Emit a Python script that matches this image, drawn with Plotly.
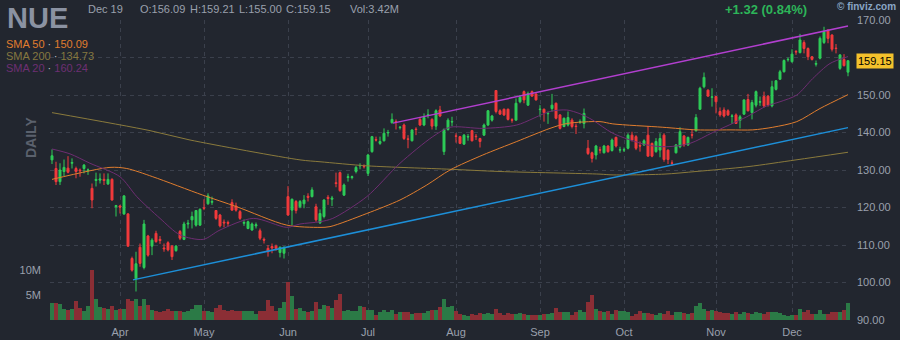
import plotly.graph_objects as go

# ---------------- data ----------------
opens = [132.7, 130.4, 126.9, 129.6, 130.5, 131.8, 130.4, 130.0, 130.4, 129.8,
         125.1, 127.2, 127.3, 127.5, 126.3, 127.5, 120.2, 120.4, 118.3, 118.3,
         106.4, 101.0, 109.4, 104.0, 112.4, 109.7, 113.1, 111.5, 109.2, 110.6,
         109.7, 108.5, 113.6, 111.5, 115.6, 116.7, 115.3, 115.3, 119.9, 121.0,
         121.4, 119.2, 118.0, 116.1, 116.0, 121.3, 120.4, 118.9, 115.8, 114.4,
         114.0, 115.1, 113.8, 111.5, 109.1, 109.6, 109.7, 108.0, 107.8, 122.9,
         119.3, 121.6, 120.2, 121.0, 123.0, 122.9, 120.2, 115.9, 117.6, 122.7,
         122.2, 126.6, 129.3, 123.3, 128.0, 128.0, 129.6, 131.1, 131.0, 129.1,
         134.9, 138.1, 137.1, 137.8, 139.9, 142.6, 142.9, 141.3, 142.0, 138.3,
         137.8, 140.9, 143.5, 142.0, 144.6, 143.5, 141.7, 146.0, 134.9, 140.8,
         142.8, 139.1, 138.9, 136.9, 138.8, 140.5, 139.0, 138.4, 139.3, 142.0,
         143.3, 151.2, 145.8, 146.2, 146.2, 143.4, 143.3, 148.2, 150.9, 147.3,
         150.9, 150.3, 146.1, 146.2, 145.0, 146.4, 147.8, 144.7, 141.6, 142.0,
         143.3, 141.7, 142.8, 142.4, 135.8, 134.6, 134.0, 135.4, 134.6, 136.4,
         135.2, 138.7, 135.3, 135.3, 135.8, 139.3, 138.9, 136.5, 136.7, 139.3,
         137.1, 134.9, 135.3, 139.3, 135.3, 131.9, 134.6, 136.2, 139.1, 136.7,
         139.4, 140.5, 146.2, 152.2, 151.3, 149.4, 149.6, 145.6, 146.0, 145.8,
         144.3, 144.7, 143.2, 144.9, 148.8, 145.3, 147.3, 148.1, 149.6, 149.7,
         147.1, 151.5, 154.2, 156.2, 159.4, 158.9, 161.6, 161.3, 164.0, 162.4,
         160.2, 158.2, 159.8, 164.0, 167.3, 166.0, 162.5, 157.1, 159.5, 156.09]
highs = [135.5, 132.2, 131.8, 132.8, 133.7, 133.1, 130.9, 130.4, 131.6, 130.4,
         126.4, 129.3, 129.1, 129.1, 129.1, 127.8, 120.7, 120.7, 123.3, 118.5,
         106.9, 108.2, 110.4, 116.7, 112.7, 111.8, 113.8, 112.4, 110.4, 111.0,
         110.0, 110.0, 114.0, 116.2, 116.7, 118.9, 119.3, 119.8, 122.2, 123.8,
         122.9, 119.3, 118.3, 116.8, 116.5, 122.2, 121.3, 119.3, 116.8, 116.5,
         116.0, 116.0, 114.4, 112.0, 110.0, 110.4, 110.1, 109.6, 109.6, 125.7,
         122.4, 122.0, 122.0, 123.3, 123.8, 125.4, 121.0, 119.5, 122.2, 123.3,
         123.1, 129.3, 129.6, 126.4, 129.0, 128.5, 131.1, 131.8, 131.5, 134.3,
         139.1, 138.9, 138.9, 141.1, 140.7, 145.1, 143.5, 141.7, 142.4, 139.3,
         140.8, 141.4, 144.0, 145.1, 146.2, 143.8, 146.2, 147.1, 141.1, 143.8,
         144.2, 139.8, 139.1, 139.6, 139.6, 140.7, 139.6, 138.6, 142.4, 146.0,
         144.7, 151.3, 146.2, 146.4, 146.4, 143.8, 149.1, 150.0, 151.2, 150.9,
         151.2, 150.4, 147.3, 146.4, 145.6, 150.3, 148.0, 144.9, 144.0, 145.6,
         143.8, 142.4, 143.5, 146.4, 138.0, 134.9, 136.7, 136.2, 136.7, 136.6,
         138.4, 138.9, 136.2, 136.0, 139.8, 140.2, 139.3, 137.6, 138.2, 141.7,
         137.3, 138.5, 139.8, 139.8, 135.5, 132.6, 136.9, 141.4, 139.3, 138.9,
         140.7, 144.9, 152.2, 156.0, 151.5, 151.8, 149.7, 146.7, 146.7, 146.2,
         144.9, 145.1, 144.7, 148.8, 150.3, 148.7, 151.2, 149.6, 150.9, 150.0,
         153.8, 154.0, 156.7, 159.5, 160.0, 162.2, 162.0, 166.3, 164.6, 162.7,
         160.4, 159.2, 165.6, 168.2, 167.5, 166.2, 163.6, 160.9, 160.9, 159.21]
lows = [131.6, 126.0, 126.0, 128.4, 129.1, 130.4, 127.8, 128.2, 129.1, 128.7,
        119.8, 125.6, 126.4, 126.0, 126.0, 121.8, 117.6, 118.4, 118.0, 109.5,
        102.9, 97.6, 104.2, 103.5, 106.9, 107.3, 110.6, 110.3, 108.2, 108.3,
        106.0, 108.2, 111.3, 111.3, 114.4, 114.4, 114.9, 115.1, 119.3, 120.7,
        120.7, 116.7, 114.7, 114.7, 115.0, 119.2, 118.9, 116.7, 115.1, 114.2,
        113.8, 114.4, 111.3, 110.4, 106.9, 107.8, 108.5, 106.7, 106.4, 117.8,
        115.3, 118.4, 119.8, 119.8, 121.6, 122.7, 116.2, 115.6, 117.1, 120.7,
        120.4, 125.4, 124.2, 123.1, 126.9, 127.5, 129.1, 130.2, 130.4, 128.4,
        134.6, 137.6, 136.7, 137.6, 138.9, 142.4, 140.8, 140.8, 138.0, 135.8,
        137.6, 139.3, 141.7, 141.7, 143.8, 140.8, 140.7, 144.1, 134.0, 140.5,
        141.7, 137.3, 136.9, 136.7, 137.8, 137.6, 138.0, 136.0, 139.1, 141.7,
        142.9, 145.1, 144.7, 144.4, 143.2, 142.6, 143.2, 147.8, 147.8, 147.1,
        149.6, 148.5, 144.2, 142.9, 142.3, 145.6, 143.5, 140.8, 141.4, 141.6,
        141.1, 139.6, 142.3, 141.1, 134.0, 132.0, 132.8, 134.4, 134.4, 134.6,
        134.9, 136.0, 134.6, 134.8, 135.5, 137.6, 135.3, 134.9, 136.4, 133.6,
        133.4, 134.6, 133.4, 132.2, 131.6, 131.2, 134.4, 135.8, 136.2, 136.4,
        138.4, 140.2, 146.0, 151.8, 149.6, 146.9, 145.1, 144.2, 144.0, 144.4,
        142.3, 142.3, 141.1, 144.7, 145.6, 143.5, 146.7, 147.1, 146.7, 146.9,
        146.7, 151.2, 154.0, 156.0, 158.9, 158.6, 160.7, 161.1, 161.1, 159.3,
        159.2, 157.6, 159.5, 163.6, 163.8, 161.6, 161.1, 156.7, 157.6, 155.00]
closes = [133.8, 126.9, 130.0, 130.7, 129.4, 132.0, 129.6, 129.8, 131.3, 130.0,
          122.0, 127.5, 127.6, 127.2, 127.5, 122.0, 120.5, 120.1, 123.1, 109.7,
          103.3, 105.0, 105.1, 115.6, 107.3, 111.3, 110.9, 111.2, 109.0, 108.7,
          106.9, 109.7, 111.8, 115.6, 115.8, 117.6, 119.2, 119.5, 119.8, 123.1,
          121.6, 117.1, 115.1, 115.9, 115.8, 119.3, 119.3, 117.1, 116.0, 116.2,
          115.6, 115.4, 111.8, 111.3, 108.2, 109.2, 109.1, 109.4, 109.4, 118.0,
          122.2, 119.2, 121.6, 122.0, 122.7, 124.7, 116.7, 118.4, 122.0, 122.4,
          122.5, 126.4, 124.5, 126.0, 128.2, 128.2, 130.7, 131.2, 130.9, 134.0,
          138.9, 138.0, 137.6, 139.8, 140.0, 143.5, 142.8, 141.4, 138.4, 138.2,
          140.7, 140.8, 142.0, 144.0, 144.7, 141.7, 145.8, 144.4, 140.8, 143.3,
          142.9, 139.0, 137.1, 139.3, 138.9, 137.8, 138.9, 137.6, 142.0, 145.8,
          144.4, 145.6, 144.9, 144.7, 143.5, 143.3, 147.8, 149.4, 148.7, 150.4,
          149.7, 148.7, 146.2, 145.3, 145.1, 147.3, 143.8, 141.1, 143.8, 144.0,
          141.6, 141.6, 142.9, 145.1, 134.4, 133.1, 136.4, 135.3, 136.4, 134.9,
          138.0, 136.4, 135.4, 135.4, 139.3, 138.0, 135.8, 136.4, 137.8, 133.7,
          133.7, 137.6, 138.4, 132.8, 132.8, 131.8, 136.7, 140.2, 136.7, 138.7,
          139.3, 144.0, 151.8, 154.7, 149.7, 149.5, 148.2, 144.7, 144.4, 144.7,
          144.4, 142.4, 144.2, 148.7, 145.8, 148.0, 150.9, 148.2, 147.1, 147.3,
          152.2, 153.8, 156.2, 159.2, 159.5, 160.9, 161.5, 164.7, 162.4, 160.2,
          159.5, 158.4, 165.1, 166.9, 165.1, 162.2, 162.4, 160.7, 157.83, 159.15]
volume_m = [3.4, 3.4, 3.2, 2.2, 2.07, 2.2, 3.8, 2.33, 1.87, 2.73,
            10.0, 4.2, 2.53, 2.33, 2.2, 2.87, 2.07, 2.2, 2.2, 4.2,
            3.87, 4.2, 2.87, 4.2, 3.0, 2.07, 1.87, 1.53, 1.87, 2.2,
            1.87, 1.87, 1.87, 1.67, 1.87, 2.2, 3.0, 3.0, 1.87, 1.87,
            1.53, 2.33, 3.0, 2.07, 1.87, 2.07, 1.87, 1.87, 1.87, 1.87,
            1.87, 1.2, 1.87, 1.87, 4.07, 2.73, 1.87, 2.33, 3.67, 7.53,
            4.87, 2.2, 2.33, 1.87, 1.67, 1.87, 3.67, 2.2, 3.0, 2.73,
            2.33, 4.07, 5.2, 1.87, 2.07, 1.87, 1.87, 2.87, 2.53, 2.0,
            2.0, 1.0, 1.53, 2.0, 1.53, 2.0, 1.2, 1.53, 1.53, 1.67,
            1.2, 1.4, 1.4, 1.4, 1.87, 2.0, 2.0, 2.53, 4.2, 2.53,
            2.73, 1.87, 1.2, 1.0, 0.87, 1.2, 1.0, 1.4, 1.2, 1.4,
            1.2, 2.2, 1.4, 1.0, 1.4, 1.2, 1.2, 1.4, 1.2, 1.0,
            1.0, 1.0, 1.0, 1.2, 1.2, 1.4, 2.33, 1.53, 1.67, 1.53,
            1.0, 1.67, 2.0, 1.53, 3.67, 5.0, 2.2, 1.87, 1.67, 1.87,
            1.2, 2.0, 1.8, 1.8, 1.53, 0.87, 1.2, 1.8, 1.4, 1.4,
            1.2, 1.0, 1.4, 1.2, 1.8, 1.0, 1.53, 1.67, 1.4, 1.2,
            1.4, 2.87, 3.4, 2.2, 1.87, 2.0, 1.87, 1.67, 1.4, 1.4,
            1.2, 1.53, 1.2, 1.53, 1.4, 1.2, 1.53, 1.4, 1.2, 1.53,
            1.67, 1.53, 1.4, 1.0, 0.73, 1.0, 1.0, 2.2, 1.53, 2.0,
            1.2, 1.2, 2.0, 1.2, 1.2, 1.53, 1.67, 1.53, 2.0, 3.42]

month_labels = ["Apr", "May", "Jun", "Jul", "Aug", "Sep", "Oct", "Nov", "Dec"]
month_bar_index = [17, 38, 59, 79, 101, 122, 143, 166, 185]
price_ticks = [90, 100, 110, 120, 130, 140, 150, 160, 170]

sma20_idx = [0, 4.5, 9.5, 17, 21.2, 27, 32, 37.8, 42, 50.3, 58.7, 62, 67, 70.2, 78.7, 87,
             95.2, 99.5, 107.7, 116.2, 124.5, 128.7, 132, 135.2, 140.2, 148.7, 153.7,
             159.5, 165.2, 173.7, 178.7, 182, 186.2, 190.2, 194.5, 199]
sma20_val = [135.6, 134.3, 131.8, 128.2, 122.9, 117.1, 112.7, 111.5, 114.0, 117.1, 114.7,
             115.6, 116.2, 117.1, 122.9, 131.8, 138.9, 141.4, 141.1, 142.0, 145.6, 146.0,
             145.0, 143.3, 139.8, 136.7, 136.2, 137.1, 140.0, 144.2, 147.1, 148.2, 150.0,
             154.4, 158.4, 160.24]
sma50_idx = [0, 14.5, 18.7, 25.2, 37.7, 46.2, 58.7, 67, 69.5, 78.7, 87, 93.7, 99.5, 107.7,
             116.2, 124.5, 128.7, 137, 140.2, 152.7, 161.2, 169.5, 175.2, 180.2, 186.2, 192, 199]
sma50_val = [127.5, 130.7, 130.4, 128.2, 123.3, 120.2, 115.3, 114.7, 114.9, 118.4, 122.0,
             126.0, 130.0, 134.0, 137.6, 141.1, 142.4, 142.9, 142.3, 141.4, 140.7, 140.7,
             140.7, 141.4, 142.9, 146.4, 150.09]
sma200_idx = [0, 24.5, 34.5, 62, 67, 79, 99.5, 112, 137, 140, 153, 161, 174, 186, 199]
sma200_val = [145.3, 140.5, 138.0, 132.7, 132.2, 131.1, 130.2, 129.6, 128.9, 128.7, 128.9,
              129.6, 130.9, 132.7, 134.73]

upper_trend_idx = [85.25, 199]
upper_trend_val = [142.5, 168.4]
lower_trend_idx = [20.25, 199]
lower_trend_val = [100.7, 141.3]

ticker = "NUE"
last_date = "Dec 19"
change_text = "+1.32 (0.84%)"

# ---------------- styling ----------------
BG = "#22262f"
GRID = "#3b404c"
TXT = "#9aa0ad"
GREEN = "#2ecc58"
RED = "#f23a3c"
VGREEN = "#2b7a46"
VRED = "#8b2e35"
FONT = "Liberation Sans, Arial, sans-serif"

x = list(range(len(closes)))
vol_colors = [VGREEN if c >= o else VRED for o, c in zip(opens, closes)]
# the tick label hidden behind the last-price box is left blank (as in the reference)
price_tick_text = ["" if abs(t - closes[-1]) < 3 else "%.2f" % t for t in price_ticks]

fig = go.Figure()

fig.add_trace(go.Bar(x=x, y=volume_m, marker=dict(color=vol_colors, line=dict(width=0)),
                     width=0.85, yaxis="y", showlegend=False, hoverinfo="skip"))

for idx, val, col in [(sma200_idx, sma200_val, "#8a7a3c"),
                      (sma50_idx, sma50_val, "#e07d2e"),
                      (sma20_idx, sma20_val, "#6e2d72")]:
    fig.add_trace(go.Scatter(x=idx, y=val, mode="lines", yaxis="y2",
                             line=dict(color=col, width=1, shape="spline", smoothing=0.8),
                             showlegend=False, hoverinfo="skip"))

fig.add_trace(go.Candlestick(x=x, open=opens, high=highs, low=lows, close=closes, yaxis="y2",
                             increasing=dict(line=dict(color=GREEN, width=1), fillcolor=GREEN),
                             decreasing=dict(line=dict(color=RED, width=1), fillcolor=RED),
                             whiskerwidth=0, showlegend=False, hoverinfo="skip"))

fig.add_trace(go.Scatter(x=upper_trend_idx, y=upper_trend_val, mode="lines", yaxis="y2",
                         line=dict(color="#b23fcf", width=1.5), showlegend=False, hoverinfo="skip"))
fig.add_trace(go.Scatter(x=lower_trend_idx, y=lower_trend_val, mode="lines", yaxis="y2",
                         line=dict(color="#1d8fd8", width=1.5), showlegend=False, hoverinfo="skip"))


def px(xp):
    return (xp - 50) / 800.0


def py(yp):
    return (320 - yp) / 300.0


ann = []
ann.append(dict(text="<b>" + ticker + "</b>", x=px(5), y=py(0), xanchor="left", yanchor="top",
                font=dict(size=29, color="#8b92a2", family=FONT)))
ann.append(dict(text=last_date, x=px(86), y=py(8.5), xanchor="left", yanchor="middle",
                font=dict(size=11, color=TXT, family=FONT)))
for label, xpos in [("O:%.2f" % opens[-1], 137.5), ("H:%.2f" % highs[-1], 188),
                    ("L:%.2f" % lows[-1], 236.5), ("C:%.2f" % closes[-1], 284),
                    ("Vol:%.2fM" % volume_m[-1], 348)]:
    ann.append(dict(text=label, x=px(xpos), y=py(8.5), xanchor="left", yanchor="middle",
                    font=dict(size=11, color=TXT, family=FONT)))
ann.append(dict(text="<b>" + change_text + "</b>", x=px(809), y=py(9), xanchor="right", yanchor="middle",
                font=dict(size=13, color="#2db559", family=FONT)))
ann.append(dict(text="<b>© finviz.com</b>", x=px(898), y=py(6.5), xanchor="right", yanchor="middle",
                font=dict(size=10, color="#8aa7c6", family=FONT)))
legend_rows = [("SMA 50", sma50_val[-1], "#e07d2e", 44),
               ("SMA 200", sma200_val[-1], "#857840", 56),
               ("SMA 20", sma20_val[-1], "#6e2f73", 67.5)]
for name, val, col, ypos in legend_rows:
    ann.append(dict(text="<span style='color:%s'>%s</span> <span style='color:#c0c4cc'>·</span> "
                         "<span style='color:%s'>%.2f</span>" % (col, name, col, val),
                    x=px(4), y=py(ypos), xanchor="left", yanchor="middle",
                    font=dict(size=11, family=FONT)))
ann.append(dict(text="<b>DAILY</b>", x=px(31), y=py(138), textangle=-90, xanchor="center",
                yanchor="middle", font=dict(size=14, color="#5b616d", family=FONT)))
ann.append(dict(text="%.2f" % closes[-1], x=px(856), y=closes[-1], yref="y2", xanchor="left",
                yanchor="middle", bgcolor="#f4c12c", borderpad=1,
                font=dict(size=11, color="#000000", family=FONT)))
for a in ann:
    a.setdefault("xref", "paper")
    a.setdefault("yref", "paper")
    a["showarrow"] = False
fig.update_layout(annotations=ann)

fig.update_layout(
    template="none",
    width=900, height=340,
    margin=dict(l=50, r=50, t=20, b=20, autoexpand=False),
    paper_bgcolor=BG, plot_bgcolor=BG,
    font=dict(family=FONT, size=11, color=TXT),
    showlegend=False,
    xaxis=dict(range=[-0.5, len(closes) - 0.5], tickmode="array", tickvals=month_bar_index,
               ticktext=month_labels, showgrid=True, gridcolor=GRID, griddash="4px,4px",
               gridwidth=1, zeroline=False, showline=False, ticks="", automargin=False,
               rangeslider=dict(visible=False), tickfont=dict(size=11, color=TXT),
               ticklabelstandoff=4),
    yaxis=dict(range=[0, 60], tickmode="array", tickvals=[5, 10], ticktext=["5M", "10M"],
               showgrid=False, zeroline=False, showline=False, side="left", ticks="",
               automargin=False, ticklabelstandoff=8, tickfont=dict(size=11, color=TXT)),
    yaxis2=dict(range=[90, 170], tickmode="array", tickvals=price_ticks, ticktext=price_tick_text,
                overlaying="y", side="right",
                anchor="x", showgrid=True, gridcolor=GRID, griddash="4px,4px", gridwidth=1,
                zeroline=False, showline=False, ticks="", ticklabelstandoff=6, automargin=False,
                tickfont=dict(size=11, color=TXT)),
    bargap=0,
)

fig.write_html("out.html")
